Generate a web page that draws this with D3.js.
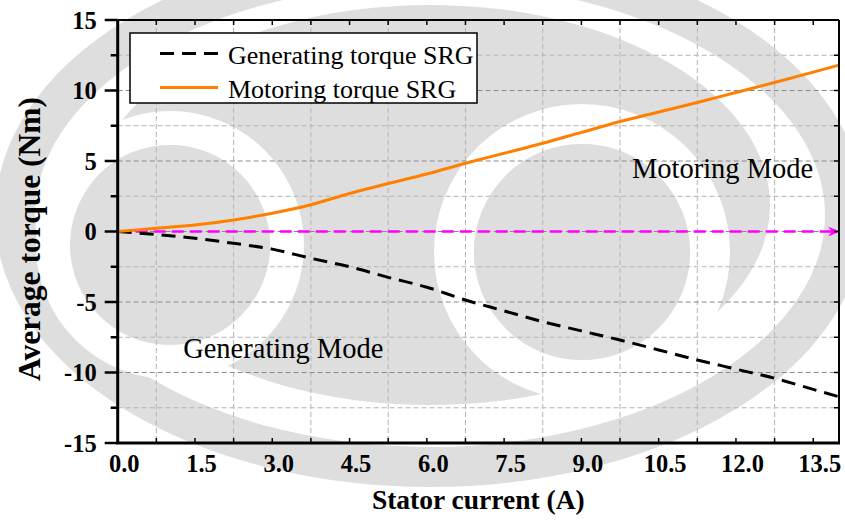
<!DOCTYPE html>
<html>
<head>
<meta charset="utf-8">
<script src="https://cdn.jsdelivr.net/npm/d3@7"></script>
<style>
  html, body { margin: 0; padding: 0; background: #fff; }
  svg { display: block; }
  svg text { font-family: "Liberation Serif", "Times New Roman", serif; fill: #000; }
  svg text.bold { font-weight: bold; }
</style>
</head>
<body>
<svg id="chart" width="845" height="520"></svg>
<script>
// Stator current (A) at which the average torque was evaluated
const current = [0, 0.75, 1.5, 2.25, 3.0, 3.75, 4.5, 5.25, 6.0, 6.75, 7.5, 8.25, 9.0, 9.75, 10.5, 11.25, 12.0, 12.75, 13.5, 14.0];
// Average torque (Nm), generating mode
const generatingTorque = [0, -0.22, -0.48, -0.84, -1.25, -1.9, -2.5, -3.25, -3.95, -4.86, -5.63, -6.40, -7.05, -7.70, -8.40, -9.11, -9.76, -10.41, -11.2, -11.72];
// Average torque (Nm), motoring mode
const motoringTorque = [0, 0.23, 0.46, 0.82, 1.3, 1.9, 2.7, 3.4, 4.08, 4.84, 5.55, 6.26, 7.03, 7.8, 8.48, 9.15, 9.86, 10.57, 11.3, 11.8];

const seriesNames = ["Generating torque SRG", "Motoring torque SRG"];
const xTickLabels = [0, 1.5, 3.0, 4.5, 6.0, 7.5, 9.0, 10.5, 12.0, 13.5];
const xGridValues = [0.75, 2.25, 3.75, 5.25, 6.75, 8.25, 9.75, 11.25, 12.75];
const yTickLabels = [15, 10, 5, 0, -5, -10, -15];
const yMinorValues = [12.5, 7.5, 2.5, -2.5, -7.5, -12.5];
const modeLabels = [
  { text: "Motoring Mode", x: 9.98, y: 3.8 },
  { text: "Generating Mode", x: 1.27, y: -8.97 }
];

const svg = d3.select("#chart");
const plot = { left: 117.7, right: 839, top: 20, bottom: 443 };

const x = d3.scaleLinear().domain([0, 14]).range([plot.left, plot.right]);
const y = d3.scaleLinear().domain([-15, 15]).range([plot.bottom, plot.top]);

// faint background emblem
const wm = svg.append("g").attr("class", "emblem");
const wmGray = "#dedede";
wm.append("ellipse").attr("cx", 430).attr("cy", 205).attr("rx", 340).attr("ry", 200).attr("fill", wmGray);
wm.append("ellipse").attr("cx", 430).attr("cy", 215).attr("rx", 415).attr("ry", 252).attr("fill", "none")
  .attr("stroke", wmGray).attr("stroke-width", 40);
wm.append("circle").attr("cx", 170).attr("cy", 245).attr("r", 117).attr("fill", "none")
  .attr("stroke", "#fff").attr("stroke-width", 34);
wm.append("circle").attr("cx", 170).attr("cy", 245).attr("r", 100).attr("fill", wmGray);
wm.append("circle").attr("cx", 582).attr("cy", 252).attr("r", 128).attr("fill", "none")
  .attr("stroke", "#fff").attr("stroke-width", 40);
wm.append("circle").attr("cx", 582).attr("cy", 252).attr("r", 108).attr("fill", wmGray);

// grid
const grid = svg.append("g").attr("class", "grid");
grid.selectAll("line.gx").data(xGridValues).join("line")
  .attr("x1", d => x(d)).attr("x2", d => x(d))
  .attr("y1", plot.top).attr("y2", plot.bottom)
  .attr("stroke", "#b4b4b4").attr("stroke-width", 1).attr("stroke-dasharray", "5,3");
grid.selectAll("line.gy").data(yTickLabels.filter(v => v > -15 && v < 15)).join("line")
  .attr("x1", plot.left).attr("x2", plot.right)
  .attr("y1", d => y(d)).attr("y2", d => y(d))
  .attr("stroke", "#8a8a8a").attr("stroke-width", 1).attr("stroke-dasharray", "5,3");
grid.selectAll("line.gym").data(yMinorValues).join("line")
  .attr("x1", plot.left).attr("x2", plot.right)
  .attr("y1", d => y(d)).attr("y2", d => y(d))
  .attr("stroke", "#b4b4b4").attr("stroke-width", 1).attr("stroke-dasharray", "5,3");

// zero reference with arrow
svg.append("defs").append("marker")
  .attr("id", "arrow").attr("viewBox", "0 0 12 10").attr("refX", 11).attr("refY", 5)
  .attr("markerWidth", 12).attr("markerHeight", 10).attr("markerUnits", "userSpaceOnUse")
  .attr("orient", "auto")
  .append("path").attr("d", "M0,0 L12,5 L0,10 L4,5 Z").attr("fill", "#ff00ff");
svg.append("line")
  .attr("x1", x(0)).attr("x2", x(14)).attr("y1", y(0)).attr("y2", y(0))
  .attr("stroke", "#ff00ff").attr("stroke-width", 2.5).attr("stroke-dasharray", "12,6")
  .attr("marker-end", "url(#arrow)");

// torque curves
const line = d3.line().x(d => x(d[0])).y(d => y(d[1])).curve(d3.curveMonotoneX);
svg.append("path")
  .datum(current.map((c, i) => [c, generatingTorque[i]]))
  .attr("d", line).attr("fill", "none")
  .attr("stroke", "#000").attr("stroke-width", 3).attr("stroke-dasharray", "14,8");
svg.append("path")
  .datum(current.map((c, i) => [c, motoringTorque[i]]))
  .attr("d", line).attr("fill", "none")
  .attr("stroke", "#ff8000").attr("stroke-width", 3);

// frame
const frame = svg.append("g").attr("stroke", "#000").attr("fill", "none");
frame.append("line").attr("x1", plot.left).attr("x2", plot.right).attr("y1", plot.top).attr("y2", plot.top).attr("stroke-width", 2);
frame.append("line").attr("x1", plot.right).attr("x2", plot.right).attr("y1", plot.top).attr("y2", plot.bottom).attr("stroke-width", 2);
frame.append("line").attr("x1", plot.left - 1.5).attr("x2", plot.right + 1).attr("y1", plot.bottom).attr("y2", plot.bottom).attr("stroke-width", 3);
frame.append("line").attr("x1", plot.left).attr("x2", plot.left).attr("y1", plot.top).attr("y2", plot.bottom).attr("stroke-width", 3);

// left axis ticks (outward)
frame.selectAll("line.ytm").data(yTickLabels).join("line")
  .attr("x1", plot.left - 13).attr("x2", plot.left).attr("y1", d => y(d)).attr("y2", d => y(d)).attr("stroke-width", 2.5);
frame.selectAll("line.ytn").data(yMinorValues).join("line")
  .attr("x1", plot.left - 7).attr("x2", plot.left).attr("y1", d => y(d)).attr("y2", d => y(d)).attr("stroke-width", 2.5);
// right axis ticks (inward)
frame.selectAll("line.yr").data(yTickLabels.concat(yMinorValues)).join("line")
  .attr("x1", plot.right - 5).attr("x2", plot.right).attr("y1", d => y(d)).attr("y2", d => y(d)).attr("stroke-width", 1.5);
// bottom and top ticks (inward)
frame.selectAll("line.xb").data(xGridValues.concat(xTickLabels.slice(1))).join("line")
  .attr("x1", d => x(d)).attr("x2", d => x(d)).attr("y1", plot.bottom - 5).attr("y2", plot.bottom).attr("stroke-width", 1.5);
frame.selectAll("line.xt").data(xGridValues.concat(xTickLabels.slice(1))).join("line")
  .attr("x1", d => x(d)).attr("x2", d => x(d)).attr("y1", plot.top).attr("y2", plot.top + 5).attr("stroke-width", 1.5);

// tick labels
svg.append("g").selectAll("text").data(yTickLabels).join("text")
  .attr("class", "bold")
  .attr("x", plot.left - 21).attr("y", d => y(d)).attr("dy", "0.35em")
  .attr("text-anchor", "end").attr("font-size", 24.5)
  .text(d => d);
svg.append("g").selectAll("text").data(xTickLabels).join("text")
  .attr("class", "bold")
  .attr("x", d => x(d) + 6.5).attr("y", 472)
  .attr("text-anchor", "middle").attr("font-size", 24.5)
  .text(d => d.toFixed(1));

// axis titles
svg.append("text").attr("class", "bold")
  .attr("x", (plot.left + plot.right) / 2).attr("y", 508.5)
  .attr("text-anchor", "middle").attr("font-size", 27.5)
  .text("Stator current (A)");
svg.append("text").attr("class", "bold")
  .attr("transform", "translate(40,239) rotate(-90)")
  .attr("text-anchor", "middle").attr("font-size", 31.5)
  .text("Average torque (Nm)");

// mode annotations
svg.append("g").selectAll("text").data(modeLabels).join("text")
  .attr("x", d => x(d.x)).attr("y", d => y(d.y))
  .attr("font-size", 28.5)
  .text(d => d.text);

// legend
const legend = svg.append("g");
legend.append("rect").attr("x", 130).attr("y", 33).attr("width", 347).attr("height", 70)
  .attr("fill", "#fff").attr("stroke", "#000").attr("stroke-width", 1.5);
const legendStyles = [
  { stroke: "#000", dash: "14,8" },
  { stroke: "#ff8000", dash: null }
];
seriesNames.forEach((name, i) => {
  const cy = 53.5 + i * 34;
  legend.append("line").attr("x1", 160).attr("x2", 218).attr("y1", cy).attr("y2", cy)
    .attr("stroke", legendStyles[i].stroke).attr("stroke-width", 3)
    .attr("stroke-dasharray", legendStyles[i].dash);
  legend.append("text").attr("x", 228).attr("y", cy + 10)
    .attr("font-size", 26).text(name);
});
</script>
</body>
</html>
